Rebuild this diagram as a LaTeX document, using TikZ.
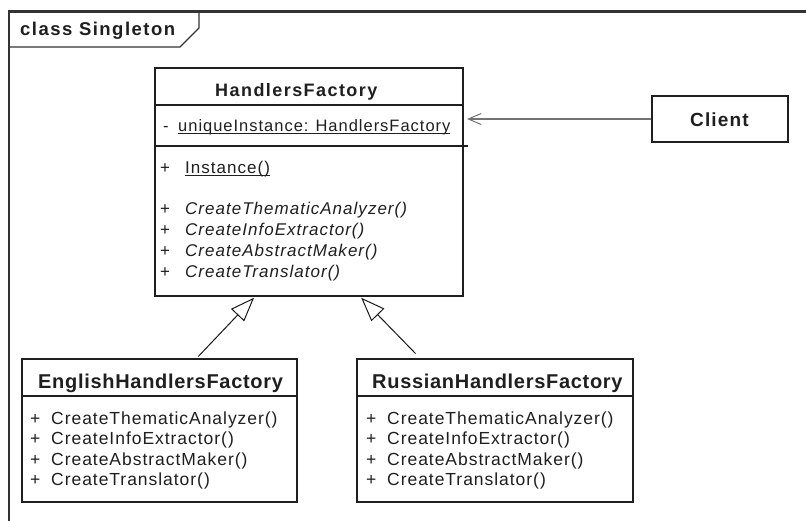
\documentclass[tikz,border=0pt]{standalone}
\usepackage{fontspec}
\setmainfont{Liberation Sans}
\usetikzlibrary{arrows.meta,calc}
% underline drawn just below the baseline, crossing descenders
\newcommand\ulbase[1]{\setbox0\hbox{#1}\rlap{\rule[-2.4pt]{\wd0}{1.1pt}}\box0}
\begin{document}
\begin{tikzpicture}[x=1pt,y=-1pt,
  cls/.style={draw=black!88, line width=2pt, fill=white, rectangle, inner sep=0pt},
  sep/.style={draw=black!88, line width=2pt},
  frame/.style={draw=black!80, line width=2.6pt},
  tabline/.style={draw=black!80, line width=1.2pt},
  classname/.style={anchor=base west, inner sep=0pt, text=black!88,
    font=\fontsize{18}{21}\selectfont\bfseries\addfontfeatures{LetterSpace=8}},
  subname/.style={anchor=base west, inner sep=0pt, text=black!88,
    font=\fontsize{20}{24}\selectfont\bfseries\addfontfeatures{LetterSpace=3.5}},
  clientname/.style={anchor=base west, inner sep=0pt, text=black!88,
    font=\fontsize{19}{22}\selectfont\bfseries\addfontfeatures{LetterSpace=6}},
  tabname/.style={anchor=base west, inner sep=0pt, text=black!88,
    font=\fontsize{18.5}{21}\selectfont\bfseries\addfontfeatures{LetterSpace=8}},
  attr/.style={anchor=base west, inner sep=0pt, text=black!88,
    font=\fontsize{16.5}{19}\selectfont\addfontfeatures{LetterSpace=6}},
  member/.style={anchor=base west, inner sep=0pt, text=black!88,
    font=\fontsize{17}{20}\selectfont\addfontfeatures{LetterSpace=6}},
  submember/.style={anchor=base west, inner sep=0pt, text=black!88,
    font=\fontsize{17.5}{20}\selectfont\addfontfeatures{LetterSpace=5.5}},
  gen/.style={draw=black!90, line width=1pt,
    -{Triangle[open, fill=white, length=24pt, width=18pt]}},
  assoc/.style={draw=black!55, line width=1.3pt,
    -{Straight Barb[length=13pt, width=11pt, line width=1pt]}}
]
\useasboundingbox (0,0) rectangle (806,520);
\fill[white] (0,0) rectangle (806,520);

% diagram frame and its name tab
\draw[frame] (9,521) -- (9,11.5) -- (807,11.5);
\draw[tabline] (9,47) -- (180,47) -- (199,28) -- (199,11.5);
\node[tabname] (tab) at (20,35.7) {class Singleton};

% class boxes
\node[cls, minimum width=308pt, minimum height=228pt] (hf) at (309,182) {};
\node[cls, minimum width=136pt, minimum height=46pt] (client) at (720,119) {};
\node[cls, minimum width=275pt, minimum height=143pt] (eng) at (159.5,430.5) {};
\node[cls, minimum width=276pt, minimum height=143pt] (rus) at (495,430.5) {};

% compartment separators
\draw[sep] ([yshift=-38pt]hf.north west) -- ([yshift=-38pt]hf.north east);
\draw[sep] ([yshift=-79pt]hf.north west) -- ([xshift=4pt,yshift=-79pt]hf.north east);
\draw[sep] ([yshift=-38pt]eng.north west) -- ([yshift=-38pt]eng.north east);
\draw[sep] ([yshift=-38pt]rus.north west) -- ([yshift=-38pt]rus.north east);

% HandlersFactory
\node[classname] (hf-name) at (215,96.7) {HandlersFactory};
\node[attr] (hf-attr) at (163,131.3)
  {\makebox[15pt][l]{-}\ulbase{uniqueInstance:\hspace{7pt}HandlersFactory}};
\node[member] (hf-op0) at (160,173.3) {\makebox[25pt][l]{+}\ulbase{Instance()}};
\node[member] (hf-op1) at (160,214) {\makebox[25pt][l]{+}\itshape CreateThematicAnalyzer()};
\node[member] (hf-op2) at (160,235) {\makebox[25pt][l]{+}\itshape CreateInfoExtractor()};
\node[member] (hf-op3) at (160,256.5) {\makebox[25pt][l]{+}\itshape CreateAbstractMaker()};
\node[member] (hf-op4) at (160,277) {\makebox[25pt][l]{+}\itshape CreateTranslator()};

% Client
\node[clientname] (client-name) at (690,126.7) {Client};

% EnglishHandlersFactory
\node[subname] (eng-name) at (38,388.7) {EnglishHandlersFactory};
\node[submember] (eng-op1) at (30,424) {\makebox[21pt][l]{+}CreateThematicAnalyzer()};
\node[submember] (eng-op2) at (30,444.5) {\makebox[21pt][l]{+}CreateInfoExtractor()};
\node[submember] (eng-op3) at (30,465) {\makebox[21pt][l]{+}CreateAbstractMaker()};
\node[submember] (eng-op4) at (30,485) {\makebox[21pt][l]{+}CreateTranslator()};

% RussianHandlersFactory
\node[subname] (rus-name) at (372,388.7) {RussianHandlersFactory};
\node[submember] (rus-op1) at (366,424) {\makebox[21pt][l]{+}CreateThematicAnalyzer()};
\node[submember] (rus-op2) at (366,444.5) {\makebox[21pt][l]{+}CreateInfoExtractor()};
\node[submember] (rus-op3) at (366,465) {\makebox[21pt][l]{+}CreateAbstractMaker()};
\node[submember] (rus-op4) at (366,485) {\makebox[21pt][l]{+}CreateTranslator()};

% relationships
\draw[assoc, shorten >=3pt] (client.west) -- (client.west -| hf.east);
\draw[gen, shorten >=1pt]
  ($(eng.north west)!0.64!(eng.north east)+(0,-1.5)$) -- ($(hf.south west)!0.325!(hf.south east)$);
\draw[gen, shorten >=1pt]
  ($(rus.north west)!0.214!(rus.north east)+(0,-4.5)$) -- ($(hf.south west)!0.666!(hf.south east)$);
\end{tikzpicture}
\end{document}
